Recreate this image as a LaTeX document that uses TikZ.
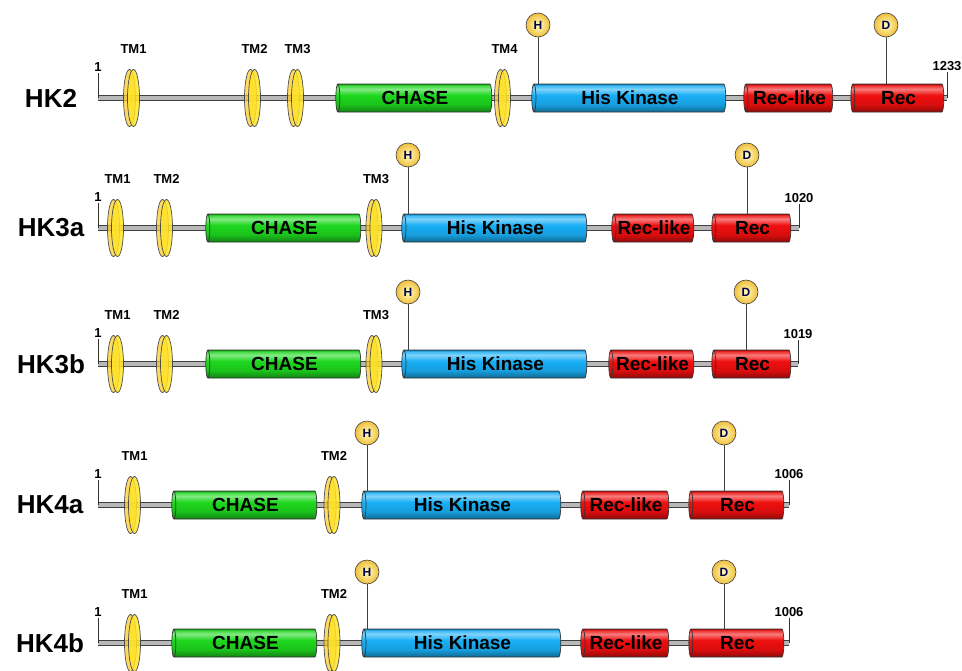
\documentclass[tikz,border=0pt]{standalone}
\usepackage{fontspec}
\setmainfont{Liberation Sans}
\usetikzlibrary{positioning,shapes.geometric}
\definecolor{chasegreen}{RGB}{30,215,30}
\definecolor{kinblue}{RGB}{25,175,245}
\definecolor{recred}{RGB}{240,15,15}
\definecolor{tmyellow}{RGB}{255,228,40}
\definecolor{siteorange}{RGB}{240,190,60}
\newcommand*{\domshade}[2]{%
  \pgfdeclareverticalshading{#1}{100bp}{%
    color(0bp)=(#2!60!black); color(25bp)=(#2!60!black);
    color(38bp)=(#2!90!black); color(55bp)=(#2);
    color(66bp)=(#2!55!white); color(72bp)=(#2!85!white);
    color(75bp)=(#2!75!black); color(100bp)=(#2!75!black)}}
\domshade{chaseshade}{chasegreen}
\domshade{kinshade}{kinblue}
\domshade{recshade}{recred}
\newcommand*{\hkfont}{\fontsize{26}{28}\selectfont\bfseries}
\newcommand*{\domfont}{\fontsize{19}{21}\selectfont\bfseries}
\newcommand*{\tmfont}{\fontsize{13}{14}\selectfont\bfseries}
\newcommand*{\sitefont}{\fontsize{12}{13}\selectfont\bfseries}
\tikzset{
  backbone/.style={draw=black!75, double=gray!55, double distance=4.6pt, line width=0.8pt},
  tick/.style={draw=black!80, line width=0.8pt},
  stalk/.style={draw=black!75, line width=0.7pt},
  % cylinder: minimum height runs along the axis
  dom/.style={cylinder, shape border rotate=180, shape aspect=0.3, draw=black!80,
    line width=0.7pt, minimum width=28pt, inner sep=0pt, shade, font=\domfont},
  tmback/.style={ellipse, draw=black!70, fill=tmyellow!75!orange, fill opacity=0.7,
    minimum width=12pt, minimum height=57pt, inner sep=0pt, line width=0.7pt},
  tmfront/.style={tmback, fill=tmyellow, fill opacity=0.85},
  tmlabel/.style={font=\tmfont, inner sep=1pt},
  numlabel/.style={font=\tmfont, inner sep=1pt, anchor=south},
  hklabel/.style={font=\hkfont, inner sep=0pt},
  site/.style={circle, draw=black!75, line width=0.6pt, inner color=yellow!25,
    outer color=siteorange, minimum size=24pt, inner sep=0pt, font=\sitefont,
    text=blue!30!black}
}
\newcommand*{\tmdisc}[3]
  {\node[tmback, xshift=-2.5pt] (#1b) at (#2) {};
   \node[tmfront, xshift=1.5pt] (#1) at (#2) {};
   \node[tmlabel, above=14pt of #1] (#1l) {#3}}

\begin{document}
\begin{tikzpicture}[x=1pt,y=-1pt]
\useasboundingbox (0,0) rectangle (962,670);
\clip (0,0) rectangle (962,670);
% HK2
\node[hklabel] (hk2) at (51,98) {HK2};
\coordinate (hk2s) at (98,98);
\coordinate (hk2e) at (947,98);
\draw[backbone] (hk2s) -- (hk2e);
\draw[tick] (hk2s) -- ++(0,-25) node[numlabel] (hk2first) {1};
\draw[tick] (hk2e) -- ++(0,-26) node[numlabel] (hk2last) {1233};
\tmdisc{hk2tm1}{132,98}{TM1};
\tmdisc{hk2tm2}{253,98}{TM2};
\tmdisc{hk2tm3}{296,98}{TM3};
\tmdisc{hk2tm4}{503,98}{TM4};
\node[dom, shading=chaseshade, minimum height=156pt] (hk2chase) at (415,98) {CHASE};
\node[dom, shading=kinshade, minimum height=194pt] (hk2kin) at (630,98) {His Kinase};
\node[dom, shading=recshade, minimum height=89pt] (hk2reclike) at (789.5,98) {Rec-like};
\node[dom, shading=recshade, minimum height=93pt] (hk2rec) at (898.5,98) {Rec};
\node[site] (hk2H) at (538,25) {H};
\node[site] (hk2D) at (886,25) {D};
\draw[stalk] (hk2H) -- (hk2H |- hk2kin.north);
\draw[stalk] (hk2D) -- (hk2D |- hk2rec.north);
% HK3a
\node[hklabel] (hk3a) at (51,228) {HK3a};
\coordinate (hk3as) at (98,228);
\coordinate (hk3ae) at (799,228);
\draw[backbone] (hk3as) -- (hk3ae);
\draw[tick] (hk3as) -- ++(0,-25) node[numlabel] (hk3afirst) {1};
\draw[tick] (hk3ae) -- ++(0,-24) node[numlabel] (hk3alast) {1020};
\tmdisc{hk3atm1}{116,228}{TM1};
\tmdisc{hk3atm2}{165,228}{TM2};
\tmdisc{hk3atm3}{374.5,228}{TM3};
\node[dom, shading=chaseshade, minimum height=155pt] (hk3achase) at (284.5,228) {CHASE};
\node[dom, shading=kinshade, minimum height=185pt] (hk3akin) at (495.5,228) {His Kinase};
\node[dom, shading=recshade, minimum height=82pt] (hk3areclike) at (654,228) {Rec-like};
\node[dom, shading=recshade, minimum height=79pt] (hk3arec) at (752.5,228) {Rec};
\node[site] (hk3aH) at (408,155) {H};
\node[site] (hk3aD) at (747,155) {D};
\draw[stalk] (hk3aH) -- (hk3aH |- hk3akin.north);
\draw[stalk] (hk3aD) -- (hk3aD |- hk3arec.north);
% HK3b
\node[hklabel] (hk3b) at (51,364) {HK3b};
\coordinate (hk3bs) at (98,364);
\coordinate (hk3be) at (798,364);
\draw[backbone] (hk3bs) -- (hk3be);
\draw[tick] (hk3bs) -- ++(0,-25) node[numlabel] (hk3bfirst) {1};
\draw[tick] (hk3be) -- ++(0,-24) node[numlabel] (hk3blast) {1019};
\tmdisc{hk3btm1}{116,364}{TM1};
\tmdisc{hk3btm2}{165,364}{TM2};
\tmdisc{hk3btm3}{374.5,364}{TM3};
\node[dom, shading=chaseshade, minimum height=155pt] (hk3bchase) at (284.5,364) {CHASE};
\node[dom, shading=kinshade, minimum height=185pt] (hk3bkin) at (495.5,364) {His Kinase};
\node[dom, shading=recshade, minimum height=85pt] (hk3breclike) at (652.5,364) {Rec-like};
\node[dom, shading=recshade, minimum height=79pt] (hk3brec) at (752.5,364) {Rec};
\node[site] (hk3bH) at (408,292) {H};
\node[site] (hk3bD) at (746,292) {D};
\draw[stalk] (hk3bH) -- (hk3bH |- hk3bkin.north);
\draw[stalk] (hk3bD) -- (hk3bD |- hk3brec.north);
% HK4a
\node[hklabel] (hk4a) at (50,505) {HK4a};
\coordinate (hk4as) at (98,505);
\coordinate (hk4ae) at (789,505);
\draw[backbone] (hk4as) -- (hk4ae);
\draw[tick] (hk4as) -- ++(0,-25) node[numlabel] (hk4afirst) {1};
\draw[tick] (hk4ae) -- ++(0,-25) node[numlabel] (hk4alast) {1006};
\tmdisc{hk4atm1}{133,505}{TM1};
\tmdisc{hk4atm2}{332.5,505}{TM2};
\node[dom, shading=chaseshade, minimum height=145pt] (hk4achase) at (245.5,505) {CHASE};
\node[dom, shading=kinshade, minimum height=199pt] (hk4akin) at (462.5,505) {His Kinase};
\node[dom, shading=recshade, minimum height=88pt] (hk4areclike) at (626,505) {Rec-like};
\node[dom, shading=recshade, minimum height=95pt] (hk4arec) at (737.5,505) {Rec};
\node[site] (hk4aH) at (367,433) {H};
\node[site] (hk4aD) at (724,433) {D};
\draw[stalk] (hk4aH) -- (hk4aH |- hk4akin.north);
\draw[stalk] (hk4aD) -- (hk4aD |- hk4arec.north);
% HK4b
\node[hklabel] (hk4b) at (50,643) {HK4b};
\coordinate (hk4bs) at (98,643);
\coordinate (hk4be) at (789,643);
\draw[backbone] (hk4bs) -- (hk4be);
\draw[tick] (hk4bs) -- ++(0,-25) node[numlabel] (hk4bfirst) {1};
\draw[tick] (hk4be) -- ++(0,-25) node[numlabel] (hk4blast) {1006};
\tmdisc{hk4btm1}{133,643}{TM1};
\tmdisc{hk4btm2}{332.5,643}{TM2};
\node[dom, shading=chaseshade, minimum height=145pt] (hk4bchase) at (245.5,643) {CHASE};
\node[dom, shading=kinshade, minimum height=199pt] (hk4bkin) at (462.5,643) {His Kinase};
\node[dom, shading=recshade, minimum height=88pt] (hk4breclike) at (626,643) {Rec-like};
\node[dom, shading=recshade, minimum height=95pt] (hk4brec) at (737.5,643) {Rec};
\node[site] (hk4bH) at (367,572) {H};
\node[site] (hk4bD) at (724,572) {D};
\draw[stalk] (hk4bH) -- (hk4bH |- hk4bkin.north);
\draw[stalk] (hk4bD) -- (hk4bD |- hk4brec.north);
\end{tikzpicture}
\end{document}
